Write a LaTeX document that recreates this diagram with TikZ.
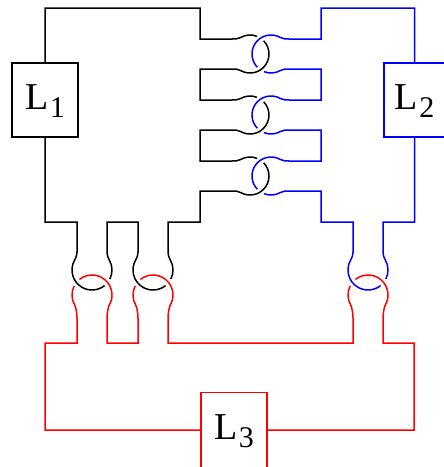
\documentclass[tikz,border=0pt]{standalone}
\usepackage{fontspec}
\setmainfont{Liberation Serif}
\newcommand\boxlab[1]{\rule[-5pt]{0pt}{5pt}L\hspace{1.5pt}\smash{\raisebox{-7.6pt}{\fontsize{30}{30}\selectfont #1}}}
\begin{document}
\begin{tikzpicture}[x=1pt,y=1pt,
  strand/.style={line width=1.5pt},
  blk/.style={strand,draw=black},
  blu/.style={strand,draw=blue},
  rd/.style={strand,draw=red},
  lbox/.style={strand,minimum width=66pt,minimum height=74pt,inner sep=0pt,
    font=\fontsize{38}{38}\selectfont}]
\useasboundingbox (0,0) rectangle (444,-467);
\node[lbox,draw=black] (L1) at (45,-100) {\boxlab{1}};
\node[lbox,draw=blue,minimum width=61pt] (L2) at (414.5,-100) {\boxlab{2}};
\node[lbox,draw=red,minimum height=75pt] (L3) at (234,-430) {\boxlab{3}};
% black strand
\draw[blk] (L1.north) -- (45,-8) -- (200,-8) -- (200,-39) -- (232,-39) .. controls (235,-39) and (237.9,-39.05) .. (240.5,-37.55) arc[start angle=120,end angle=68,radius=19pt];
\draw[blk] ([shift={(44:19pt)}]250,-54) arc[start angle=44,end angle=-120,radius=19pt] .. controls (237.9,-68.95) and (235,-69) .. (232,-69) -- (200,-69) -- (200,-100) -- (232,-100) .. controls (235,-100) and (237.9,-100.05) .. (240.5,-98.55) arc[start angle=120,end angle=68,radius=19pt];
\draw[blk] ([shift={(44:19pt)}]250,-115) arc[start angle=44,end angle=-120,radius=19pt] .. controls (237.9,-129.95) and (235,-130) .. (232,-130) -- (200,-130) -- (200,-161) -- (232,-161) .. controls (235,-161) and (237.9,-161.05) .. (240.5,-159.55) arc[start angle=120,end angle=68,radius=19pt];
\draw[blk] ([shift={(44:19pt)}]250,-176) arc[start angle=44,end angle=-120,radius=19pt] .. controls (237.9,-190.95) and (235,-191) .. (232,-191) -- (200,-191) -- (200,-222) -- (168,-222) -- (168,-252) .. controls (168,-255) and (168.82,-257.4) .. (170.32,-260) arc[start angle=30,end angle=-27,radius=20pt];
\draw[blk] ([shift={(-27:20pt)}]92,-270) arc[start angle=-27,end angle=30,radius=20pt] .. controls (107.82,-257.4) and (107,-255) .. (107,-252) -- (107,-222) -- (138,-222) -- (138,-252) .. controls (138,-255) and (137.18,-257.4) .. (135.68,-260) arc[start angle=150,end angle=309,radius=20pt];
\draw[blk] (L1.south) -- (45,-222) -- (77,-222) -- (77,-252) .. controls (77,-255) and (76.18,-257.4) .. (74.68,-260) arc[start angle=150,end angle=309,radius=20pt];
% blue strand
\draw[blu] (L2.north) -- (414.5,-8) -- (321,-8) -- (321,-39) -- (289,-39) .. controls (286,-39) and (283.1,-39.05) .. (280.5,-37.55) arc[start angle=60,end angle=224,radius=19pt];
\draw[blu] ([shift={(248:19pt)}]271,-54) arc[start angle=248,end angle=300,radius=19pt] .. controls (283.1,-68.95) and (286,-69) .. (289,-69) -- (321,-69) -- (321,-100) -- (289,-100) .. controls (286,-100) and (283.1,-100.05) .. (280.5,-98.55) arc[start angle=60,end angle=224,radius=19pt];
\draw[blu] ([shift={(248:19pt)}]271,-115) arc[start angle=248,end angle=300,radius=19pt] .. controls (283.1,-129.95) and (286,-130) .. (289,-130) -- (321,-130) -- (321,-161) -- (289,-161) .. controls (286,-161) and (283.1,-161.05) .. (280.5,-159.55) arc[start angle=60,end angle=224,radius=19pt];
\draw[blu] ([shift={(248:19pt)}]271,-176) arc[start angle=248,end angle=300,radius=19pt] .. controls (283.1,-190.95) and (286,-191) .. (289,-191) -- (321,-191) -- (321,-222) -- (353,-222) -- (353,-252) .. controls (353,-255) and (352.18,-257.4) .. (350.68,-260) arc[start angle=150,end angle=309,radius=20pt];
\draw[blu] (L2.south) -- (414.5,-222) -- (383,-222) -- (383,-252) .. controls (383,-255) and (383.82,-257.4) .. (385.32,-260) arc[start angle=30,end angle=-27,radius=20pt];
% red strand
\draw[rd] (L3.west) -- (45,-430) -- (45,-343) -- (77,-343) -- (77,-318) .. controls (77,-315) and (76.18,-307.6) .. (74.68,-305) arc[start angle=210,end angle=153,radius=20pt];
\draw[rd] ([shift={(129:20pt)}]92,-295) arc[start angle=129,end angle=-30,radius=20pt] .. controls (107.82,-307.6) and (107,-315) .. (107,-318) -- (107,-343) -- (138,-343) -- (138,-318) .. controls (138,-315) and (137.18,-307.6) .. (135.68,-305) arc[start angle=210,end angle=153,radius=20pt];
\draw[rd] ([shift={(129:20pt)}]153,-295) arc[start angle=129,end angle=-30,radius=20pt] .. controls (168.82,-307.6) and (168,-315) .. (168,-318) -- (168,-343) -- (353,-343) -- (353,-318) .. controls (353,-315) and (352.18,-307.6) .. (350.68,-305) arc[start angle=210,end angle=153,radius=20pt];
\draw[rd] ([shift={(129:20pt)}]368,-295) arc[start angle=129,end angle=-30,radius=20pt] .. controls (383.82,-307.6) and (383,-315) .. (383,-318) -- (383,-343) -- (414,-343) -- (414,-430) -- (L3.east);
\end{tikzpicture}
\end{document}
